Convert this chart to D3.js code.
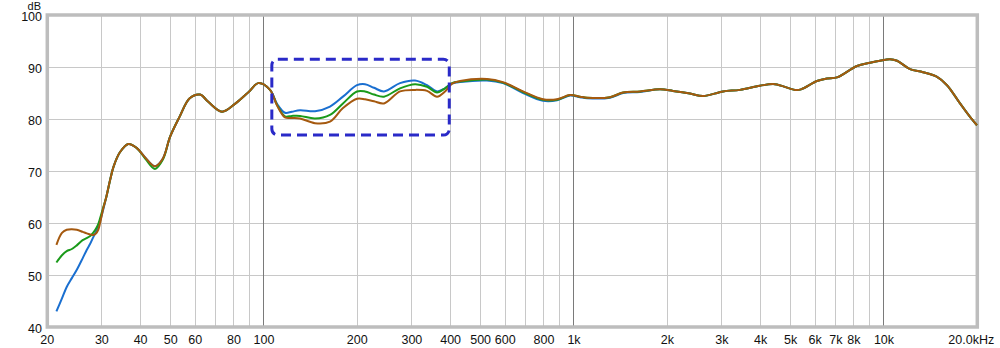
<!DOCTYPE html>
<html><head><meta charset="utf-8">
<script src="https://cdn.jsdelivr.net/npm/d3@7"></script>
<style>
html,body{margin:0;padding:0;background:#fff;}
svg{display:block;font-family:"Liberation Sans",Arial,sans-serif;}
</style></head>
<body>
<svg id="chart" width="1000" height="348"></svg>
<script>
// ---- data ----
const freqs = [21.4,22.3,23.1,24.0,24.9,26.0,26.8,27.5,28.1,28.7,29.2,29.6,30.3,31.0,31.9,32.7,34.3,36.5,38.9,41.5,44.5,47.2,49.8,53.4,57.6,62.2,66.1,73.2,81.0,89.6,95.9,104.6,110.2,116.9,123,130.7,146.1,163.3,179.8,199.5,211.8,226.4,243.9,274.7,307,335.7,361.6,383.7,404.2,428.9,524,590,685,794,882,971,1046,1102,1307,1440,1633,1895,2086,2367,2608,3025,3432,3981,4450,5163,5400,6079,6551,7055,8184,9016,9708,10457,11020,12130,13360,14830,15970,17590,18950,19950];
const blueDb = [43.0,45.5,47.7,49.4,51.0,53.2,54.8,56.0,57.2,58.3,59.4,60.4,62.6,65.0,68.3,70.8,73.6,75.2,74.4,72.5,70.9,72.4,76.6,80.4,84.0,84.7,83.3,81.4,83.0,85.3,86.9,85.6,82.9,81.2,81.4,81.7,81.5,82.4,84.3,86.5,86.7,86.0,85.3,86.9,87.4,86.5,85.3,85.9,86.8,87.1,87.4,86.9,85.0,83.5,83.6,84.5,84.2,84.0,84.1,85.0,85.2,85.7,85.4,84.9,84.4,85.3,85.6,86.4,86.7,85.6,85.7,87.3,87.8,88.0,90.2,90.8,91.2,91.5,91.2,89.6,89.0,88.1,86.5,83.0,80.4,78.8];
const greenDb = [52.4,53.8,54.6,55.0,55.7,56.7,57.1,57.5,58.1,58.9,59.8,60.9,63.0,65.0,68.3,70.8,73.6,75.2,74.4,72.3,70.4,72.2,76.6,80.4,84.0,84.7,83.3,81.4,83.0,85.3,86.9,85.6,82.7,80.5,80.6,80.6,80.1,80.8,83.0,85.3,85.3,84.7,84.3,85.9,86.7,86.2,85.1,85.9,86.9,87.2,87.6,87.0,85.2,83.7,83.7,84.6,84.3,84.1,84.2,85.1,85.3,85.7,85.4,84.9,84.4,85.3,85.6,86.4,86.7,85.6,85.7,87.3,87.8,88.0,90.2,90.8,91.2,91.5,91.2,89.6,89.0,88.1,86.5,83.0,80.4,78.8];
const brownDb = [55.8,58.1,58.7,58.8,58.7,58.3,58.0,57.8,57.7,58.0,58.7,60.0,62.8,65.0,68.3,70.8,73.6,75.2,74.4,72.5,70.9,72.4,76.6,80.4,84.0,84.7,83.3,81.4,83.0,85.3,86.9,85.6,82.6,80.3,80.2,80.1,79.2,79.5,82.1,83.9,83.8,83.4,83.0,85.3,85.6,85.4,84.3,85.3,86.8,87.3,87.7,87.1,85.3,83.8,83.8,84.6,84.3,84.1,84.2,85.1,85.3,85.7,85.4,84.9,84.4,85.3,85.6,86.4,86.7,85.6,85.7,87.3,87.8,88.0,90.2,90.8,91.2,91.5,91.2,89.6,89.0,88.1,86.5,83.0,80.4,78.8];
const seriesNames = ["blue","green","brown"];
const seriesColors = ["#1a6fd0","#1a9a1a","#a5590f"];
const yTicks = [40,50,60,70,80,90,100];
const xLabelValues = [20,30,40,50,60,80,100,200,300,400,500,600,800,1000,2000,3000,4000,5000,6000,7000,8000,10000,20000];
const xLabelTexts = ["20","30","40","50","60","80","100","200","300","400","500","600","800","1k","2k","3k","4k","5k","6k","7k","8k","10k","20.0kHz"];
const decades = [100,1000,10000];
const boxFreq = [106,396];
const boxDb = [76.9,91.5];

// ---- chart ----
const svg = d3.select("#chart");
const x = d3.scaleLog().domain([20,20000]).range([47.3,977.3]);
const y = d3.scaleLinear().domain([40,100]).range([327,15]);

// minor gridlines
const minor = [];
[10,100,1000,10000].forEach(d=>{for(let k=1;k<10;k++){const v=d*k; if(v>20&&v<20000) minor.push(v);}});
svg.append("g").selectAll("line").data(minor.filter(v=>!decades.includes(v))).join("line")
  .attr("x1",d=>x(d)).attr("x2",d=>x(d)).attr("y1",y(100)).attr("y2",y(40))
  .attr("stroke","#c8c8c8").attr("stroke-width",1).attr("shape-rendering","crispEdges");
svg.append("g").selectAll("line").data(yTicks.slice(1,-1)).join("line")
  .attr("x1",x(20)).attr("x2",x(20000)).attr("y1",d=>y(d)).attr("y2",d=>y(d))
  .attr("stroke","#c8c8c8").attr("stroke-width",1).attr("shape-rendering","crispEdges");
svg.append("g").selectAll("line").data(decades).join("line")
  .attr("x1",d=>x(d)).attr("x2",d=>x(d)).attr("y1",y(100)).attr("y2",y(40))
  .attr("stroke","#7a7a7a").attr("stroke-width",1).attr("shape-rendering","crispEdges");

// frame
svg.append("rect").attr("x",x(20)).attr("y",y(100)).attr("width",x(20000)-x(20)).attr("height",y(40)-y(100))
  .attr("fill","none").attr("stroke","#bdbdbd").attr("stroke-width",3.5);

// curves
const line = d3.line().x(d=>x(d[0])).y(d=>y(d[1])).curve(d3.curveCatmullRom.alpha(0.5));
[blueDb,greenDb,brownDb].forEach((arr,i)=>{
  svg.append("path").datum(freqs.map((f,j)=>[f,arr[j]]))
    .attr("d",line).attr("fill","none").attr("stroke",seriesColors[i]).attr("stroke-width",2)
    .attr("stroke-linejoin","round").attr("class",seriesNames[i]);
});

// annotation box
svg.append("rect").attr("x",x(boxFreq[0])).attr("y",y(boxDb[1]))
  .attr("width",x(boxFreq[1])-x(boxFreq[0])).attr("height",y(boxDb[0])-y(boxDb[1]))
  .attr("rx",6).attr("ry",6).attr("fill","none").attr("stroke","#2a2ac8").attr("stroke-width",3)
  .attr("stroke-dasharray","10,6");

// y labels
svg.append("g").selectAll("text").data(yTicks).join("text")
  .attr("x",42).attr("y",d=>y(d)+5.5).attr("text-anchor","end")
  .attr("font-size",12.5).attr("fill","#111").text(d=>d);
svg.append("text").attr("x",41).attr("y",10).attr("text-anchor","end").attr("font-size",11).attr("fill","#111").text("dB");

// x labels
svg.append("g").selectAll("text").data(xLabelValues).join("text")
  .attr("x",(d,i)=>x(d) - (d===20000?6:0)).attr("y",343.5).attr("text-anchor","middle")
  .attr("font-size",12.5).attr("fill","#111").text((d,i)=>xLabelTexts[i]);
</script>
</body></html>
